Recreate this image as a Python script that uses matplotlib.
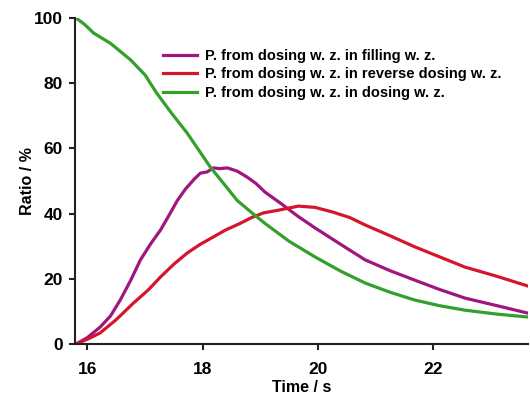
import matplotlib
matplotlib.use("Agg")
import matplotlib.pyplot as plt

plt.rcParams['font.family'] = ['Liberation Sans', 'DejaVu Sans']
plt.rcParams['font.weight'] = 'bold'

# values
t_fill = [15.8, 16.0, 16.22, 16.4, 16.57, 16.75, 16.92, 17.1, 17.27, 17.42, 17.56, 17.7,
          17.85, 17.96, 18.08, 18.18, 18.3, 18.43, 18.6, 18.77, 18.92, 19.08, 19.38, 19.65,
          19.95, 20.4, 20.82, 21.25, 21.68, 22.1, 22.55, 23.1, 23.64]
p_fill = [0, 2.0, 5.2, 8.6, 13.5, 19.5, 25.8, 30.8, 35.0, 39.6, 44.0, 47.5,
          50.5, 52.4, 52.8, 54.0, 53.8, 54.0, 53.0, 51.2, 49.3, 46.6, 42.8, 39.2,
          35.6, 30.5, 25.8, 22.5, 19.6, 16.8, 14.1, 11.8, 9.5]

t_rev = [15.8, 16.0, 16.22, 16.5, 16.8, 17.05, 17.27, 17.5, 17.73, 17.95, 18.18, 18.4,
         18.65, 18.85, 19.05, 19.3, 19.66, 19.95, 20.25, 20.55, 20.82, 21.25, 21.68, 22.1,
         22.55, 23.1, 23.64]
p_rev = [0, 1.5, 3.4, 7.5, 12.6, 16.5, 20.6, 24.5, 27.9, 30.5, 32.8, 35.0,
         37.0, 38.8, 40.2, 41.0, 42.3, 41.9, 40.5, 38.8, 36.5, 33.2, 29.8, 26.8,
         23.6, 20.8, 17.8]

t_dos = [15.8, 15.95, 16.11, 16.4, 16.75, 17.0, 17.2, 17.45, 17.73, 17.95, 18.13,
         18.35, 18.6, 18.85, 19.08, 19.5, 19.95, 20.4, 20.82, 21.25, 21.68, 22.1, 22.55,
         23.1, 23.64]
p_dos = [100, 98.0, 95.3, 92.2, 87.1, 82.5, 77.0, 71.0, 64.7, 59.0, 54.3,
         49.5, 44.0, 40.3, 37.0, 31.5, 26.7, 22.3, 18.7, 15.9, 13.5, 11.8, 10.4,
         9.2, 8.3]

labels = ['P. from dosing w. z. in filling w. z.',
          'P. from dosing w. z. in reverse dosing w. z.',
          'P. from dosing w. z. in dosing w. z.']
colors = ['#A0167E', '#D4152B', '#33A02C']

fig, ax = plt.subplots(figsize=(5.3, 3.96), dpi=100)
fig.subplots_adjust(left=0.142, right=0.996, top=0.955, bottom=0.131)

for t, p, lab, c in zip([t_fill, t_rev, t_dos], [p_fill, p_rev, p_dos], labels, colors):
    ax.plot(t, p, color=c, lw=2.3, label=lab)

ax.set_xlim(15.79, 23.64)
ax.set_ylim(0, 100)
ax.set_xticks([16, 18, 20, 22])
ax.set_yticks([0, 20, 40, 60, 80, 100])
ax.spines['top'].set_visible(False)
ax.spines['right'].set_visible(False)
for s in ['left', 'bottom']:
    ax.spines[s].set_linewidth(1.5)
    ax.spines[s].set_color('#222222')
ax.tick_params(width=1.5, length=4, labelsize=12.5, color='#222222', pad=5)
ax.tick_params(axis='x', pad=9)
for lbl in ax.get_xticklabels() + ax.get_yticklabels():
    lbl.set_fontweight('bold')

ax.set_xlabel('Time / s', fontsize=11.5, fontweight='bold', labelpad=2)
ax.set_ylabel('Ratio / %', fontsize=11.5, fontweight='bold', labelpad=-1)

ax.legend(loc='upper left', bbox_to_anchor=(0.181, 0.922), frameon=False,
          fontsize=10.5, handlelength=2.3, handletextpad=0.55, labelspacing=0.3,
          borderaxespad=0)

fig.savefig('out.png', dpi=100)
